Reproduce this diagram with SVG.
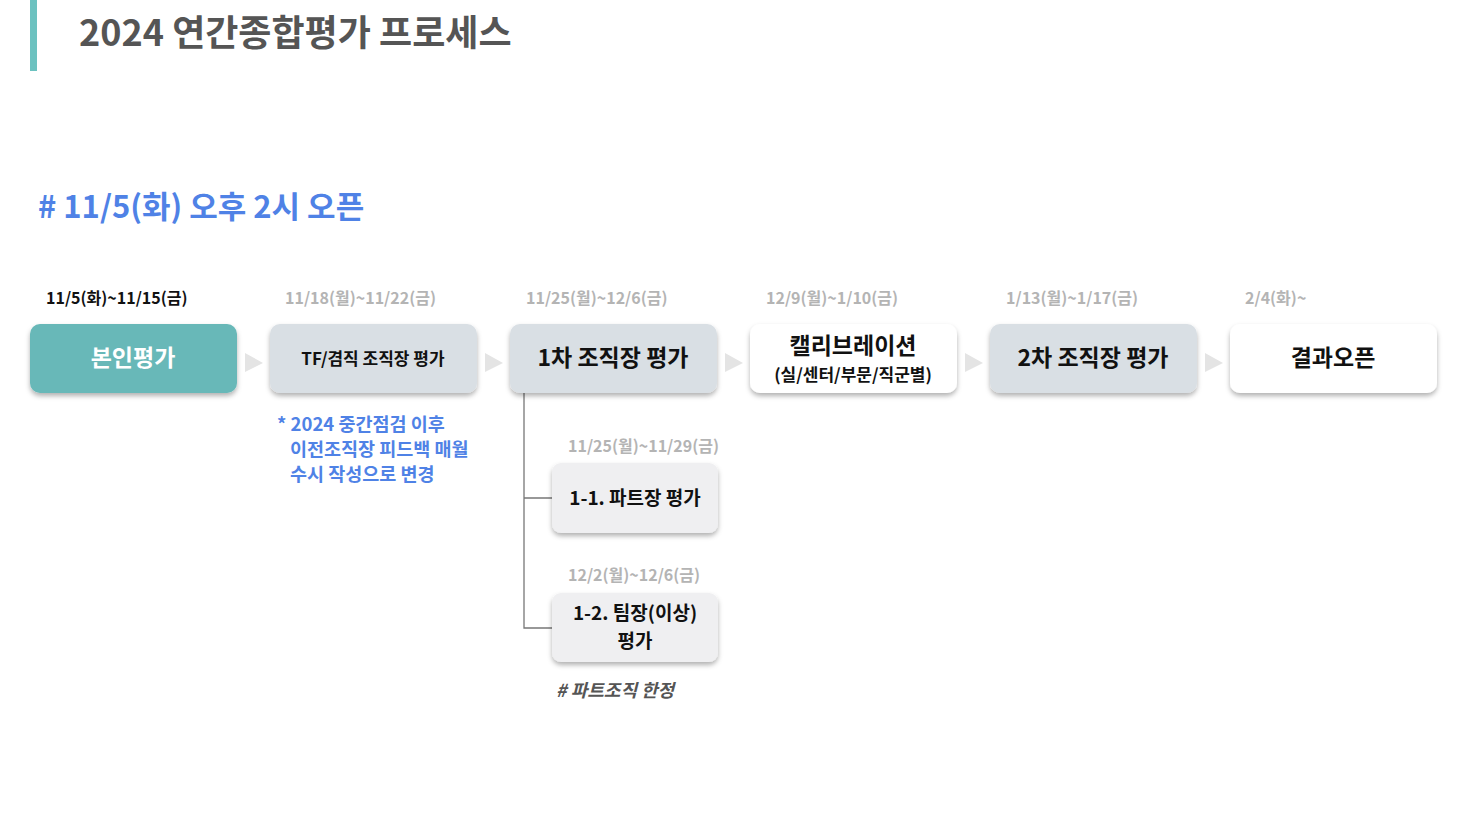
<svg xmlns="http://www.w3.org/2000/svg" width="1478" height="823" viewBox="0 0 1478 823">
<defs>
<filter id="sh" x="-10%" y="-20%" width="120%" height="150%">
<feDropShadow dx="0" dy="3" stdDeviation="2.5" flood-color="#000" flood-opacity="0.3"/>
</filter>
<style>
text{font-family:"Noto Sans CJK KR","Noto Sans",sans-serif;font-weight:bold}
.title{font-size:36px;fill:#555}
.open{font-size:31px;fill:#4f82e6}
.date{font-size:16px;fill:#b4b4b4}
.datek{font-size:16px;fill:#111}
.lbl{font-size:23px;fill:#111;text-anchor:middle}
.lbls{font-size:17px;fill:#111;text-anchor:middle}
.note{font-size:18.5px;fill:#4f82e6}
.hint{font-size:18px;fill:#555;font-style:italic}
.box{filter:url(#sh)}
.gray{fill:#d9dfe4}
.wht{fill:#ffffff}
.sub{fill:#efeff1}
.tri{fill:#e4e4e4}
.conn{stroke:#777;stroke-width:1.3;fill:none}
</style>
</defs>
<rect width="1478" height="823" fill="#fff"/>
<rect x="30" y="0" width="7" height="71" fill="#6cc2c0"/>
<text class="title" x="79" y="46">2024 연간종합평가 프로세스</text>
<text class="open" x="38" y="218">#  11/5(화) 오후 2시 오픈</text>

<g id="dates">
<text class="datek" x="46" y="304">11/5(화)~11/15(금)</text>
<text class="date" x="285" y="304">11/18(월)~11/22(금)</text>
<text class="date" x="526" y="304">11/25(월)~12/6(금)</text>
<text class="date" x="766" y="304">12/9(월)~1/10(금)</text>
<text class="date" x="1006" y="304">1/13(월)~1/17(금)</text>
<text class="date" x="1245" y="304">2/4(화)~</text>
<text class="date" x="568" y="452">11/25(월)~11/29(금)</text>
<text class="date" x="568" y="581">12/2(월)~12/6(금)</text>
</g>

<g id="connectors">
<polygon class="tri" points="245,353 263,363 245,372"/>
<polygon class="tri" points="485,353 503,363 485,372"/>
<polygon class="tri" points="725,353 743,363 725,372"/>
<polygon class="tri" points="965,353 983,363 965,372"/>
<polygon class="tri" points="1205,353 1223,363 1205,372"/>
<path class="conn" d="M524,393 V628 H552 M524,498 H552"/>
</g>

<g id="n1"><rect class="box" x="30" y="324" width="207" height="69" rx="10" fill="#67b8b8"/><text class="lbl" x="133" y="366" style="fill:#fff">본인평가</text></g>
<g id="n2"><rect class="box gray" x="270" y="324" width="207" height="69" rx="10"/><text class="lbls" x="373" y="365">TF/겸직 조직장 평가</text></g>
<g id="n3"><rect class="box gray" x="510" y="324" width="207" height="69" rx="10"/><text class="lbl" x="613" y="366">1차 조직장 평가</text></g>
<g id="n4"><rect class="box wht" x="750" y="324" width="207" height="69" rx="10"/><text class="lbl" x="853" y="354">캘리브레이션</text><text class="lbls" x="853" y="381">(실/센터/부문/직군별)</text></g>
<g id="n5"><rect class="box gray" x="990" y="324" width="207" height="69" rx="10"/><text class="lbl" x="1093" y="366">2차 조직장 평가</text></g>
<g id="n6"><rect class="box wht" x="1230" y="324" width="207" height="69" rx="10"/><text class="lbl" x="1333" y="366">결과오픈</text></g>
<g id="n7"><rect class="box sub" x="552" y="463" width="166" height="70" rx="9"/><text class="lbls" x="635" y="505" style="font-size:19px">1-1. 파트장 평가</text></g>
<g id="n8"><rect class="box sub" x="552" y="593" width="166" height="69" rx="9"/><text class="lbls" x="635" y="620" style="font-size:19px">1-2. 팀장(이상)</text><text class="lbls" x="635" y="648" style="font-size:19px">평가</text></g>

<g id="notes">
<text class="note" x="277" y="431">* 2024 중간점검 이후</text>
<text class="note" x="290" y="456">이전조직장 피드백 매월</text>
<text class="note" x="290" y="481">수시 작성으로 변경</text>
<text class="hint" x="556" y="697"># 파트조직 한정</text>
</g>
</svg>
